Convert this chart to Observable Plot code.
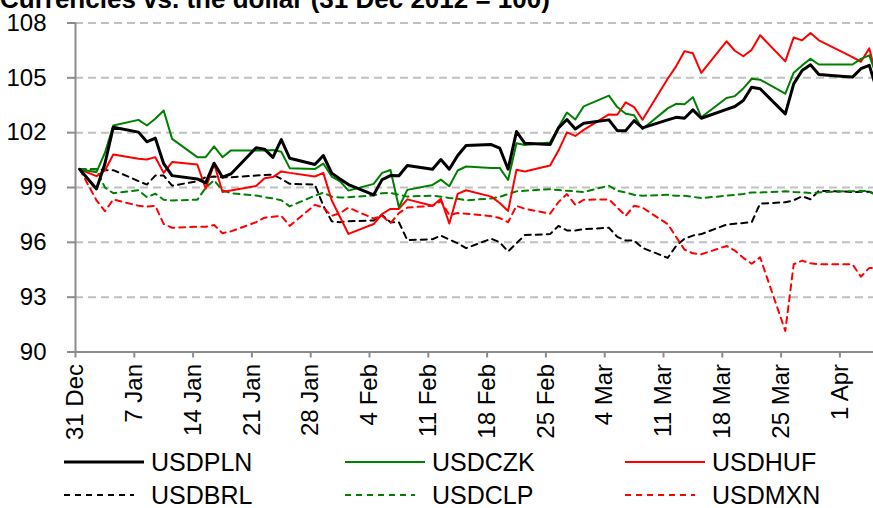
<!DOCTYPE html>
<html><head><meta charset="utf-8">
<script src="https://cdn.jsdelivr.net/npm/d3@7"></script>
<script src="https://cdn.jsdelivr.net/npm/@observablehq/plot@0.6"></script>
<style>
body{margin:0;background:#fff;font-family:"Liberation Sans",Arial,sans-serif;}
#wrap{position:relative;width:873px;height:508px;overflow:hidden;}
#title{position:absolute;left:0;top:-14px;font-weight:bold;font-size:26px;line-height:26px;white-space:nowrap;color:#000;}
#chart{position:absolute;left:0;top:0;}
.lg{position:absolute;display:flex;align-items:center;font-size:25px;line-height:24px;color:#000;white-space:nowrap;}
.lg svg{display:block;margin-right:7px;}
</style></head><body>
<div id="wrap">
<div id="chart"></div>
<div id="title">Currencies vs. the dollar (31 Dec 2012 = 100)</div>
<div id="legend"></div>
</div>
<script>
const dates = ["2012-12-31","2013-01-02","2013-01-03","2013-01-04","2013-01-07","2013-01-08","2013-01-09","2013-01-10","2013-01-11","2013-01-14",
"2013-01-15","2013-01-16","2013-01-17","2013-01-18","2013-01-21","2013-01-22","2013-01-23","2013-01-24","2013-01-25","2013-01-28",
"2013-01-29","2013-01-30","2013-01-31","2013-02-01","2013-02-04","2013-02-05","2013-02-06","2013-02-07","2013-02-08","2013-02-11",
"2013-02-12","2013-02-13","2013-02-14","2013-02-15","2013-02-18","2013-02-19","2013-02-20","2013-02-21","2013-02-22","2013-02-25",
"2013-02-26","2013-02-27","2013-02-28","2013-03-01","2013-03-04","2013-03-05","2013-03-06","2013-03-07","2013-03-08","2013-03-11",
"2013-03-12","2013-03-13","2013-03-14","2013-03-15","2013-03-18","2013-03-19","2013-03-20","2013-03-21","2013-03-22","2013-03-25",
"2013-03-26","2013-03-27","2013-03-28","2013-03-29","2013-04-01","2013-04-02","2013-04-03","2013-04-04","2013-04-05"];

const usdpln = [100.0,98.92,100.3,102.3,102.03,101.5,101.7,100.3,99.65,99.47,
99.25,100.33,99.56,99.74,101.17,101.1,100.65,101.62,100.6,100.26,
100.75,99.78,99.47,99.16,98.6,99.43,99.65,99.64,100.2,100.0,
100.53,100.0,100.75,101.3,101.35,101.16,100.0,102.06,101.42,101.35,
102.26,102.72,102.2,102.52,102.7,102.11,102.11,102.66,102.26,102.7,
102.84,102.79,103.25,102.79,103.27,103.43,103.76,104.49,104.4,103.03,
104.67,105.4,105.71,105.18,105.07,105.04,105.5,105.68,104.2];

const usdczk = [100.0,99.84,100.9,102.39,102.7,102.39,102.76,103.21,101.66,100.66,
100.66,101.25,100.66,101.03,101.03,101.03,101.05,100.96,100.06,100.01,
100.31,99.6,99.34,98.83,99.2,99.8,99.96,97.92,98.87,99.14,
99.43,99.07,99.93,100.15,100.07,100.07,99.41,101.42,101.33,101.46,
102.3,103.1,102.72,103.44,104.03,103.4,103.03,102.95,102.2,103.33,
103.58,103.56,103.94,102.84,103.9,104.0,104.42,104.95,104.9,104.13,
105.28,105.68,106.04,105.73,105.73,105.73,106.04,106.23,104.9];

const usdhuf = [100.0,99.62,99.93,100.81,100.57,100.53,100.66,99.8,100.39,100.26,
98.93,100.3,98.75,98.84,99.08,99.51,99.57,99.88,99.8,99.6,
99.8,98.3,97.37,96.46,97.0,97.55,97.83,97.83,98.35,98.0,
98.38,97.03,98.65,98.85,98.5,98.15,97.72,99.97,99.88,100.2,
101.02,102.02,101.82,102.15,103.0,102.98,103.66,103.4,102.71,104.95,
105.63,106.46,106.34,105.27,107.0,106.48,106.18,106.53,107.33,105.9,
107.21,107.05,107.45,107.05,106.37,106.13,105.88,106.61,104.8];

const usdbrl = [100.0,100.0,99.95,99.95,99.35,99.16,99.65,99.65,99.1,99.34,
99.56,99.6,99.56,99.56,99.65,99.69,99.7,99.47,99.2,99.16,
98.01,97.15,97.1,97.15,97.2,97.5,97.1,97.1,96.12,96.17,
96.37,96.15,95.95,95.68,96.2,96.0,95.5,95.95,96.4,96.45,
96.9,96.65,96.65,96.72,96.8,96.3,96.1,96.1,95.7,95.15,
95.8,96.2,96.37,96.45,96.97,97.02,97.06,97.1,98.12,98.19,
98.3,98.52,98.36,98.82,98.78,98.74,98.77,98.77,98.6];

const usdclp = [100.0,100.0,99.0,98.69,98.85,98.47,98.66,98.33,98.29,98.33,
98.98,99.4,98.84,98.69,98.56,98.47,98.4,98.3,97.97,98.55,
98.72,98.5,98.45,98.47,98.56,98.69,98.7,98.6,98.5,98.56,
98.5,98.43,98.38,98.3,98.4,98.49,98.64,98.79,98.82,98.91,
98.86,98.82,98.79,98.75,99.1,98.82,98.73,98.6,98.55,98.6,
98.55,98.55,98.49,98.42,98.55,98.6,98.64,98.73,98.73,98.79,
98.75,98.73,98.7,98.73,98.79,98.79,98.82,98.79,98.5];

const usdmxn = [100.0,98.3,97.7,98.35,98.0,97.95,98.0,97.0,96.8,96.85,
96.85,96.95,96.5,96.6,97.1,97.35,97.4,97.45,96.9,98.05,
97.9,97.45,97.6,97.9,97.3,97.45,97.05,97.6,97.9,98.0,
98.25,97.5,97.6,97.57,97.43,97.33,97.1,98.0,97.83,97.57,
98.2,98.64,98.05,98.33,98.35,97.9,97.45,98.0,97.9,97.0,
96.3,95.6,95.4,95.35,95.8,95.55,95.15,94.83,95.18,91.15,
94.8,95.0,94.85,94.8,94.8,94.8,94.12,94.6,94.6];

const yTicks = [90,93,96,99,102,105,108];
const xTickDates = ["2012-12-31","2013-01-07","2013-01-14","2013-01-21","2013-01-28","2013-02-04","2013-02-11",
"2013-02-18","2013-02-25","2013-03-04","2013-03-11","2013-03-18","2013-03-25","2013-04-01"];

const series = [
  {name:"USDPLN", values:usdpln, color:"#000000", width:3, dash:null},
  {name:"USDCZK", values:usdczk, color:"#008000", width:2, dash:null},
  {name:"USDHUF", values:usdhuf, color:"#ff0000", width:2, dash:null},
  {name:"USDBRL", values:usdbrl, color:"#000000", width:2, dash:"6,5"},
  {name:"USDCLP", values:usdclp, color:"#008000", width:2, dash:"6,5"},
  {name:"USDMXN", values:usdmxn, color:"#ff0000", width:2, dash:"6,5"}
];

const parseDay = s => new Date(s + "T00:00:00Z");
const noon = s => new Date(parseDay(s).getTime() + 12*3600*1000);

const rows = series.flatMap(s => dates.map((d,i) => ({name:s.name, date:noon(d), value:s.values[i]})));

const xStart = parseDay("2012-12-31");
const xEnd = parseDay("2013-04-05");
const H = 445;
const fmt = d3.utcFormat("%-d %b");

const drawOrder = ["USDBRL","USDCLP","USDMXN","USDHUF","USDCZK","USDPLN"];
const lineMarks = drawOrder.map(n => {
  const s = series.find(t => t.name === n);
  return Plot.line(rows.filter(r => r.name === n), {
    x:"date", y:"value", stroke:s.color, strokeWidth:s.width,
    strokeDasharray:s.dash || undefined, clip:true, curve:"linear"
  });
});

const chart = Plot.plot({
  width: 873, height: H,
  marginLeft: 75, marginRight: 0, marginTop: 22.5, marginBottom: H - 351.5,
  style: {fontFamily:"'Liberation Sans', Arial, sans-serif", fontSize:"24px", color:"#000", background:"#fff", overflow:"visible"},
  x: {type:"utc", domain:[xStart, xEnd]},
  y: {domain:[90,108]},
  marks: [
    Plot.ruleY(yTicks.filter(v => v > 90), {stroke:"#c0c0c0", strokeWidth:2, strokeDasharray:"8,5"}),
    ...lineMarks,
    Plot.ruleX([xStart], {stroke:"#8c8c8c", strokeWidth:2}),
    Plot.ruleY([90], {stroke:"#8c8c8c", strokeWidth:2}),
    Plot.axisY({ticks:yTicks, tickSize:8, tickPadding:21, stroke:"#8c8c8c", strokeWidth:2, fill:"#000", fontSize:24, tickFormat:d => String(d), label:null}),
    Plot.axisX({ticks:xTickDates.map(parseDay), tickSize:6, tickPadding:6, tickRotate:-90, stroke:"#8c8c8c", strokeWidth:2, fill:"#000", fontSize:24, tickFormat:fmt, label:null})
  ]
});
document.getElementById("chart").appendChild(chart);

// legend
const legendCols = [64, 345, 625];
const legendRows = [462, 495];
const legend = document.getElementById("legend");
series.forEach((s, i) => {
  const col = i % 3, row = Math.floor(i / 3);
  const div = document.createElement("div");
  div.className = "lg";
  div.style.left = legendCols[col] + "px";
  div.style.top = (legendRows[row] - 12) + "px";
  div.style.height = "24px";
  const len = 80;
  const svgNS = "http://www.w3.org/2000/svg";
  const sv = document.createElementNS(svgNS, "svg");
  sv.setAttribute("width", len); sv.setAttribute("height", 10);
  const ln = document.createElementNS(svgNS, "line");
  ln.setAttribute("x1", 0); ln.setAttribute("x2", s.dash ? 70 : len);
  ln.setAttribute("y1", 5); ln.setAttribute("y2", 5);
  ln.setAttribute("stroke", s.color); ln.setAttribute("stroke-width", s.width);
  if (s.dash) ln.setAttribute("stroke-dasharray", s.dash);
  sv.appendChild(ln);
  div.appendChild(sv);
  const t = document.createElement("span");
  t.textContent = s.name;
  div.appendChild(t);
  legend.appendChild(div);
});
</script>
</body></html>
